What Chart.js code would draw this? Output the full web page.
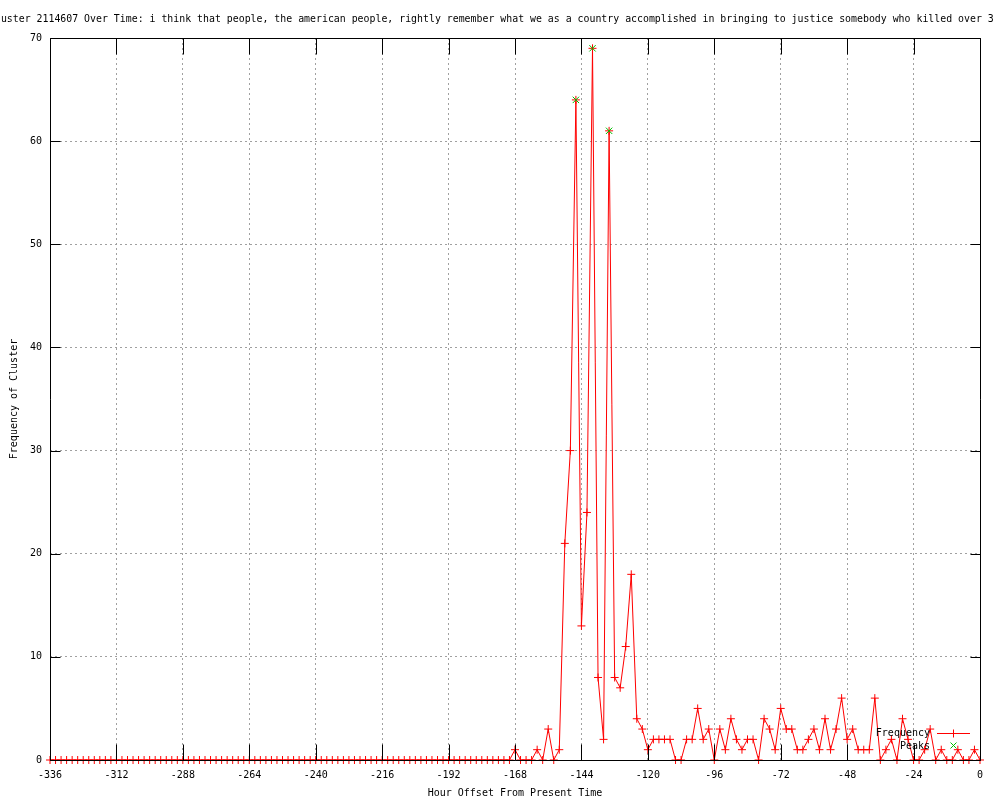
<!DOCTYPE html>
<html>
<head>
<meta charset="utf-8">
<script src="https://cdn.jsdelivr.net/npm/chart.js@4/dist/chart.umd.min.js"></script>
<style>
html,body{margin:0;padding:0;background:#fff;}
#wrap{width:1000px;height:800px;}
canvas{display:block;}
</style>
</head>
<body>
<div id="wrap"><canvas id="c" width="1000" height="800"></canvas></div>
<script>
const titleText = "Cluster 2114607 Over Time: i think that people, the american people, rightly remember what we as a country accomplished in bringing to justice somebody who killed over 3";
const xAxisTitle = "Hour Offset From Present Time";
const yAxisTitle = "Frequency of Cluster";
const seriesNames = ["Frequency", "Peaks"];

const hours = [
  -336,-334,-332,-330,-328,-326,-324,-322,-320,-318,-316,-314,
  -312,-310,-308,-306,-304,-302,-300,-298,-296,-294,-292,-290,
  -288,-286,-284,-282,-280,-278,-276,-274,-272,-270,-268,-266,
  -264,-262,-260,-258,-256,-254,-252,-250,-248,-246,-244,-242,
  -240,-238,-236,-234,-232,-230,-228,-226,-224,-222,-220,-218,
  -216,-214,-212,-210,-208,-206,-204,-202,-200,-198,-196,-194,
  -192,-190,-188,-186,-184,-182,-180,-178,-176,-174,-172,-170,
  -168,-166,-164,-162,-160,-158,-156,-154,-152,-150,-148,-146,
  -144,-142,-140,-138,-136,-134,-132,-130,-128,-126,-124,-122,
  -120,-118,-116,-114,-112,-110,-108,-106,-104,-102,-100,-98,
  -96,-94,-92,-90,-88,-86,-84,-82,-80,-78,-76,-74,
  -72,-70,-68,-66,-64,-62,-60,-58,-56,-54,-52,-50,
  -48,-46,-44,-42,-40,-38,-36,-34,-32,-30,-28,-26,
  -24,-22,-20,-18,-16,-14,-12,-10,-8,-6,-4,-2,
  0
];
const frequency = [
  0,0,0,0,0,0,0,0,0,0,0,0,
  0,0,0,0,0,0,0,0,0,0,0,0,
  0,0,0,0,0,0,0,0,0,0,0,0,
  0,0,0,0,0,0,0,0,0,0,0,0,
  0,0,0,0,0,0,0,0,0,0,0,0,
  0,0,0,0,0,0,0,0,0,0,0,0,
  0,0,0,0,0,0,0,0,0,0,0,0,
  1,0,0,0,1,0,3,0,1,21,30,64,
  13,24,69,8,2,61,8,7,11,18,4,3,
  1,2,2,2,2,0,0,2,2,5,2,3,
  0,3,1,4,2,1,2,2,0,4,3,1,
  5,3,3,1,1,2,3,1,4,1,3,6,
  2,3,1,1,1,6,0,1,2,0,4,2,
  0,0,1,3,0,1,0,0,1,0,0,1,
  0
];
const peakHours = [-146, -140, -134];
const peakValues = [64, 69, 61];
const xTickValues = [-336,-312,-288,-264,-240,-216,-192,-168,-144,-120,-96,-72,-48,-24,0];
const yTickValues = [0,10,20,30,40,50,60,70];

const FONT = '"DejaVu Sans Mono", "Liberation Mono", monospace';
const RED = '#ff0000';
const GREEN = '#00c000';

const framePlugin = {
  id: 'frame',
  beforeDraw(chart) {
    const ctx = chart.ctx;
    ctx.save();
    ctx.fillStyle = '#ffffff';
    ctx.fillRect(0, 0, chart.width, chart.height);
    ctx.fillStyle = '#000';
    ctx.font = '9.9px ' + FONT;
    ctx.textAlign = 'left';
    ctx.textBaseline = 'middle';
    ctx.fillText(titleText, -11, 19);
    ctx.restore();
  },
  afterDatasetsDraw(chart) {
    const ctx = chart.ctx;
    const a = chart.chartArea;
    const xs = chart.scales.x, ys = chart.scales.y;
    const L = Math.round(a.left) + 0.5, R = Math.round(a.right) + 0.5;
    const T = Math.round(a.top) + 0.5, B = Math.round(a.bottom) + 0.5;
    ctx.save();
    ctx.setLineDash([]);
    ctx.strokeStyle = '#000';
    ctx.lineWidth = 1;
    ctx.beginPath();
    ctx.rect(L, T, R - L, B - T);
    xs.ticks.forEach(t => {
      const px = Math.round(xs.getPixelForValue(t.value)) + 0.5;
      ctx.moveTo(px, B); ctx.lineTo(px, B - 16);
      ctx.moveTo(px, T); ctx.lineTo(px, T + 16);
    });
    ys.ticks.forEach(t => {
      const py = Math.round(ys.getPixelForValue(t.value)) + 0.5;
      ctx.moveTo(L, py); ctx.lineTo(L + 10, py);
      ctx.moveTo(R, py); ctx.lineTo(R - 10, py);
    });
    ctx.stroke();

    // legend (inside, bottom right)
    const ds = chart.data.datasets;
    ctx.font = '10px ' + FONT;
    ctx.textAlign = 'right';
    ctx.textBaseline = 'middle';
    ctx.fillStyle = '#000';
    ctx.fillText(ds[0].label, 930, 733);
    ctx.fillText(ds[1].label, 930, 746);
    ctx.lineWidth = 1;
    ctx.strokeStyle = RED;
    ctx.beginPath();
    ctx.moveTo(937, 733.5); ctx.lineTo(970, 733.5);
    ctx.moveTo(953.5, 729.5); ctx.lineTo(953.5, 737.5);
    ctx.stroke();
    ctx.strokeStyle = GREEN;
    ctx.beginPath();
    ctx.moveTo(950.5, 742.5); ctx.lineTo(956.5, 748.5);
    ctx.moveTo(956.5, 742.5); ctx.lineTo(950.5, 748.5);
    ctx.stroke();
    ctx.restore();
  }
};

const freqPoints = hours.map((h, i) => ({x: h, y: frequency[i]}));
const peakPoints = peakHours.map((h, i) => ({x: h, y: peakValues[i]}));

new Chart(document.getElementById('c'), {
  type: 'scatter',
  data: {
    datasets: [
      {
        label: seriesNames[0],
        data: freqPoints,
        showLine: true,
        borderColor: RED,
        backgroundColor: RED,
        borderWidth: 1,
        tension: 0,
        pointStyle: 'cross',
        pointRadius: 4,
        pointBorderColor: RED,
        pointBorderWidth: 1,
        clip: false,
        order: 2
      },
      {
        label: seriesNames[1],
        data: peakPoints,
        showLine: false,
        borderColor: GREEN,
        backgroundColor: GREEN,
        pointStyle: 'crossRot',
        pointRadius: 4.5,
        pointBorderColor: GREEN,
        pointBorderWidth: 1,
        clip: false,
        order: 1
      }
    ]
  },
  options: {
    responsive: false,
    animation: false,
    devicePixelRatio: 1,
    events: [],
    layout: { padding: { top: 38, right: 20, left: 0, bottom: 0 } },
    plugins: {
      legend: { display: false },
      title: { display: false },
      tooltip: { enabled: false }
    },
    scales: {
      x: {
        type: 'linear',
        min: xTickValues[0],
        max: xTickValues[xTickValues.length - 1],
        afterBuildTicks: s => { s.ticks = xTickValues.map(v => ({ value: v })); },
        afterFit: s => { s.height = 40; },
        ticks: {
          color: '#000',
          font: { family: FONT, size: 10 },
          padding: 9,
          maxRotation: 0,
          minRotation: 0,
          autoSkip: false,
          callback: v => String(v)
        },
        grid: { color: '#a0a0a0', lineWidth: 1, drawTicks: false },
        border: { display: false, dash: [2, 3] },
        title: {
          display: true,
          text: xAxisTitle,
          color: '#000',
          font: { family: FONT, size: 10 },
          padding: { top: 0, bottom: 1 }
        }
      },
      y: {
        type: 'linear',
        min: yTickValues[0],
        max: yTickValues[yTickValues.length - 1],
        afterBuildTicks: s => { s.ticks = yTickValues.map(v => ({ value: v })); },
        afterFit: s => { s.width = 50; },
        ticks: {
          color: '#000',
          font: { family: FONT, size: 10 },
          padding: 8,
          callback: v => String(v)
        },
        grid: { color: '#a0a0a0', lineWidth: 1, drawTicks: false },
        border: { display: false, dash: [2, 3] },
        title: {
          display: true,
          text: yAxisTitle,
          color: '#000',
          font: { family: FONT, size: 10 },
          padding: { top: 8, bottom: 0 }
        }
      }
    }
  },
  plugins: [framePlugin]
});
</script>
</body>
</html>
